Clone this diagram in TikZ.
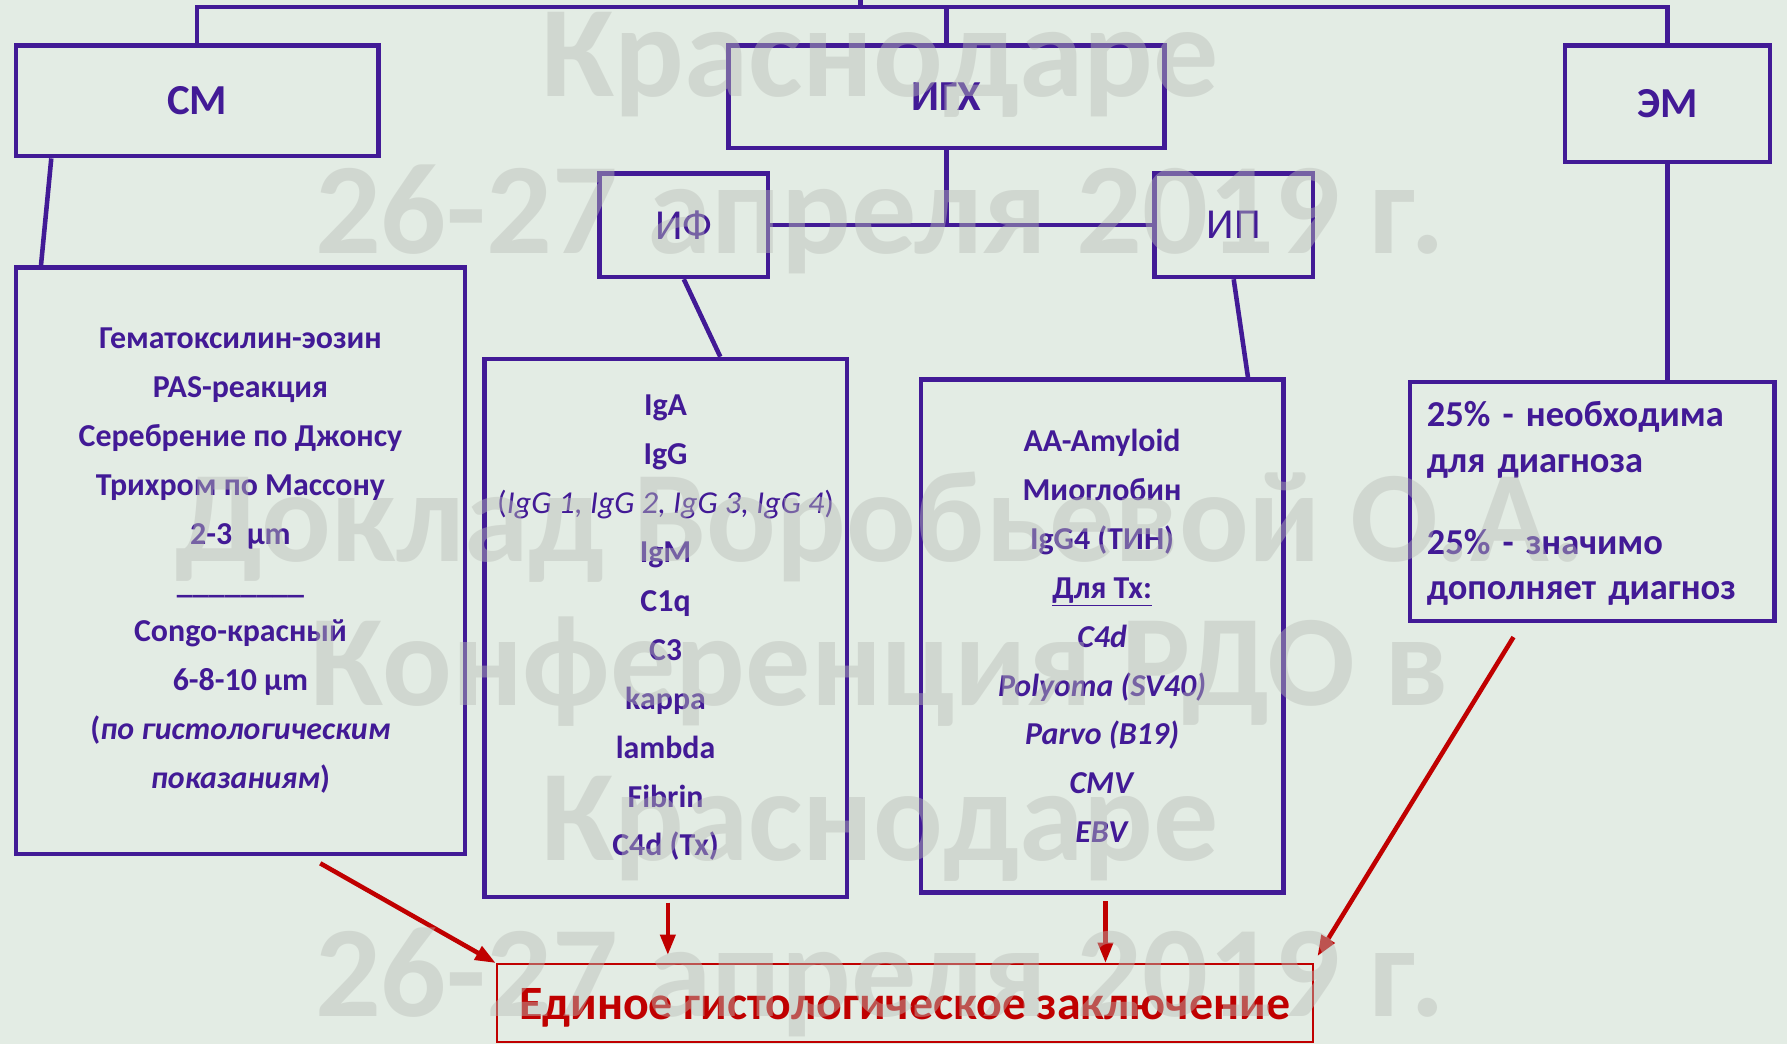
\documentclass[tikz,border=0pt]{standalone}
\usepackage{fontspec}
\setmainfont{Carlito}
\usetikzlibrary{arrows.meta,calc}
\definecolor{bgc}{RGB}{227,236,228}
\definecolor{purp}{RGB}{66,26,150}
\definecolor{redc}{RGB}{192,0,0}
\definecolor{wmc}{RGB}{186,190,184}
\begin{document}
\begin{tikzpicture}[x=1pt,y=-1pt,
  pbox/.style={draw=purp, line width=4pt, inner sep=0pt, text=purp},
  title/.style={pbox, font=\bfseries\fontsize{37.5}{42}\selectfont},
  stitle/.style={pbox, font=\fontsize{37.5}{42}\selectfont},
  listbox/.style={pbox, align=center, font=\bfseries\fontsize{28}{42.9}\selectfont},
  conn/.style={draw=purp, line width=4pt},
  redarr/.style={draw=redc, line width=4pt, -{Triangle[length=18pt,width=13pt]}},
  wm/.style={text=wmc, opacity=0.44, font=\bfseries\fontsize{114}{120}\selectfont, anchor=base, inner sep=0pt}]
\useasboundingbox (0,0) rectangle (1568,916);
\fill[bgc] (0,0) rectangle (1568,916);

% top-level boxes
\node[title, minimum width=318pt, minimum height=97pt] (sm) at (173,88.5) {СМ};
\node[title, minimum width=383pt, minimum height=90pt] (igh) at (830.5,85) {ИГХ};
\node[title, minimum width=180pt, minimum height=102pt] (em) at (1463,91) {ЭМ};
\node[stitle, minimum width=148pt, minimum height=91pt] (if) at (600,197.5) {ИФ};
\node[stitle, minimum width=139pt, minimum height=91pt] (ip) at (1082.5,197.5) {ИП};

% lists
\node[listbox, minimum width=394pt, minimum height=515pt] (smlist) at (211,492)
  {Гематоксилин-эозин\\PAS-реакция\\Серебрение по Джонсу\\Трихром по Массону\\2-3~ µm\\\_\_\_\_\_\_\_\_\\Congo-красный\\6-8-10 µm\\(\textit{по гистологическим}\\\textit{показаниям})};
\node[listbox, minimum width=318pt, minimum height=472pt] (iflist) at (584,551)
  {IgA\\IgG\\{\mdseries(\textit{IgG 1, IgG 2, IgG 3, IgG 4})}\\IgM\\C1q\\C3\\kappa\\lambda\\Fibrin\\C4d (Tx)};
\node[listbox, minimum width=318pt, minimum height=450pt] (iplist) at (967,558)
  {AA-Amyloid\\Миоглобин\\IgG4 (ТИН)\\\underline{Для Tx:}\\\textit{C4d}\\\textit{Polyoma (SV40)}\\\textit{Parvo (B19)}\\\textit{CMV}\\\textit{EBV}};
\node[pbox, align=left, text width=290pt, inner xsep=15pt, minimum height=210pt,
  font=\bfseries\fontsize{32}{40}\selectfont] (emtext) at (1397,440)
  {\raisebox{-2pt}[\height][\depth]{25\% - необходима}\\\raisebox{-2pt}[\height][\depth]{для диагноза}\\[32pt]\raisebox{-2pt}[\height][\depth]{25\% - значимо}\\\raisebox{-2pt}[\height][\depth]{дополняет диагноз}};

% final box
\node[draw=redc, line width=2pt, minimum width=716pt, minimum height=68pt, inner sep=0pt,
  text=redc, font=\bfseries\fontsize{42}{46}\selectfont] (final) at (794,880)
  {\raisebox{-4pt}[\height][\depth]{Единое гистологическое заключение}};

% purple connectors
\coordinate (topc) at (755,0);
\coordinate (topy) at (0,6);
\draw[conn] (topc) -- (topc |- topy);
\draw[conn] (sm.north) -- (sm.north |- topy) -- (em.north |- topy) -- (em.north);
\draw[conn] (igh.north) -- (igh.north |- topy);
\draw[conn] ($(sm.south west)+(33,0)$) -- ($(smlist.north west)+(24,0)$);
\draw[conn] (igh.south) -- (igh.south |- if.east);
\draw[conn] (if.east) -- (ip.west);
\draw[conn] (if.south) -- ($(iflist.north)+(48,0)$);
\draw[conn] (ip.south) -- ($(iplist.north)+(128,0)$);
\draw[conn] (em.south) -- (em.south |- emtext.north);

% red arrows
\draw[redarr] ($(smlist.south)+(70,6)$) -- (final.north west);
\draw[redarr] ($(iflist.south)+(2,3)$) -- ($(final.north)+(-208,-7)$);
\draw[redarr] ($(iplist.south)+(3,6)$) -- ($(final.north)+(176,0)$);
\draw[redarr] ($(emtext.south)+(-69,12)$) -- ($(final.north east)+(3,-6)$);

% watermark
\node[wm] (wm1) at (772,85) {Краснодаре};
\node[wm] (wm2) at (772,222) {26-27 апреля 2019 г.};
\node[wm] (wm3) at (772,493) {Доклад Воробьевой О.А.};
\node[wm] (wm4) at (772,619) {Конференция РДО в};
\node[wm] (wm5) at (772,755) {Краснодаре};
\node[wm] (wm6) at (772,892) {26-27 апреля 2019 г.};
\end{tikzpicture}
\end{document}
